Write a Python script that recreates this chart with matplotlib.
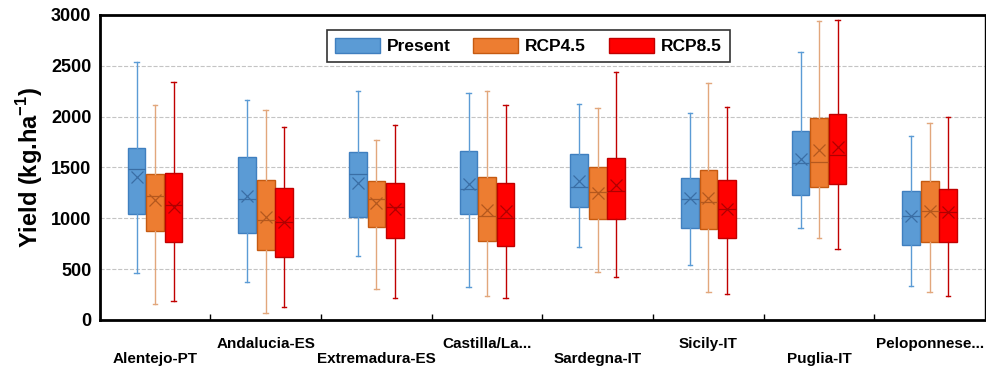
import numpy as np
import matplotlib.pyplot as plt

plt.rcParams['font.family'] = ['Liberation Sans', 'DejaVu Sans']
plt.rcParams['font.weight'] = 'bold'
plt.rcParams['mathtext.fontset'] = 'custom'
plt.rcParams['mathtext.bf'] = 'Liberation Sans:bold'
plt.rcParams['mathtext.rm'] = 'Liberation Sans:bold'

regions = ['Alentejo-PT', 'Andalucia-ES', 'Extremadura-ES', 'Castilla/La...',
           'Sardegna-IT', 'Sicily-IT', 'Puglia-IT', 'Peloponnese...']
scenarios = ['Present', 'RCP4.5', 'RCP8.5']

# min, q1, median, q3, max, mean  (kg/ha)
present = [
    [465, 1039, 1482, 1694, 2540, 1409],
    [377, 852, 1187, 1606, 2163, 1219],
    [629, 1010, 1432, 1649, 2255, 1350],
    [321, 1042, 1285, 1665, 2229, 1334],
    [721, 1108, 1305, 1629, 2127, 1367],
    [541, 905, 1187, 1393, 2032, 1195],
    [901, 1232, 1541, 1855, 2632, 1587],
    [337, 737, 1023, 1272, 1809, 1023],
]
rcp45 = [
    [157, 875, 1222, 1432, 2111, 1180],
    [72, 688, 983, 1377, 2065, 1010],
    [308, 918, 1187, 1364, 1770, 1147],
    [236, 780, 1023, 1403, 2255, 1082],
    [475, 993, 1262, 1508, 2081, 1252],
    [278, 895, 1160, 1478, 2327, 1203],
    [806, 1305, 1554, 1989, 2943, 1672],
    [278, 767, 1069, 1364, 1934, 1069],
]
rcp85 = [
    [190, 764, 1130, 1442, 2340, 1114],
    [125, 623, 967, 1295, 1901, 967],
    [213, 803, 1108, 1350, 1921, 1088],
    [213, 728, 1000, 1350, 2111, 1075],
    [426, 993, 1272, 1590, 2442, 1327],
    [252, 803, 1095, 1373, 2091, 1095],
    [695, 1334, 1622, 2026, 2950, 1704],
    [233, 767, 1065, 1288, 1993, 1065],
]

face = ['#5B9BD5', '#ED7D31', '#FF0000']
edge = ['#3F7FBF', '#C55A11', '#C00000']
whisk = ['#5B9BD5', '#E2A77C', '#C00000']
dark = ['#3A6EA5', '#B4581E', '#B00000']

fig = plt.figure(figsize=(9.87, 3.72), dpi=100)
ax = fig.add_axes([0.101, 0.140, 0.897, 0.820])

offsets = [-0.167, 0.0, 0.167]
for k, data in enumerate([present, rcp45, rcp85]):
    stats = []
    for row in data:
        stats.append(dict(whislo=row[0], q1=row[1], med=row[2], q3=row[3],
                          whishi=row[4], mean=row[5], fliers=[]))
    pos = np.arange(len(regions)) + 0.5 + offsets[k]
    ax.bxp(stats, positions=pos, widths=0.16, capwidths=0.04, patch_artist=True,
           showmeans=True, manage_ticks=False,
           boxprops=dict(facecolor=face[k], edgecolor=edge[k], linewidth=1),
           whiskerprops=dict(color=whisk[k], linewidth=1),
           capprops=dict(color=whisk[k], linewidth=1),
           medianprops=dict(color=dark[k], linewidth=0.9),
           meanprops=dict(marker='x', markeredgecolor=dark[k], markersize=8,
                          markeredgewidth=0.9))

ax.set_xlim(0, len(regions))
ax.set_ylim(0, 3000)
ax.set_yticks([0, 500, 1000, 1500, 2000, 2500, 3000])
ax.tick_params(axis='y', length=0, labelsize=13, pad=6)
ax.yaxis.grid(True, linestyle='--', color='#C4C4C4', linewidth=0.8)
ax.set_axisbelow(True)

# boundaries as major ticks, names as minor ticks (staggered)
ax.set_xticks(np.arange(1, len(regions)))
ax.set_xticklabels([])
ax.tick_params(axis='x', which='major', direction='in', length=4, width=1)
labs = [('\n' + r if i % 2 == 0 else r) for i, r in enumerate(regions)]
ax.set_xticks(np.arange(len(regions)) + 0.5, minor=True)
ax.set_xticklabels(labs, minor=True, fontsize=11, fontweight='bold', linespacing=1.1)
ax.tick_params(axis='x', which='minor', length=0, pad=12)

for s in ['left', 'bottom', 'top']:
    ax.spines[s].set_linewidth(2)
ax.spines['right'].set_linewidth(1)

ax.set_ylabel('Yield (kg.ha$^{\\mathbf{-1}}$)', fontsize=17, fontweight='bold', labelpad=4)

handles = [plt.Rectangle((0, 0), 1, 1, facecolor=face[k], edgecolor=edge[k]) for k in range(3)]
leg = ax.legend(handles, scenarios, loc='center', bbox_to_anchor=(0.484, 0.898), ncol=3,
                fontsize=12.5, frameon=True, fancybox=False, edgecolor='black',
                handlelength=2.6, handleheight=1.0, columnspacing=1.3, borderpad=0.45,
                handletextpad=0.4)
leg.get_frame().set_linewidth(1.2)
for t in leg.get_texts():
    t.set_fontweight('bold')

plt.savefig('out.png', dpi=100)
